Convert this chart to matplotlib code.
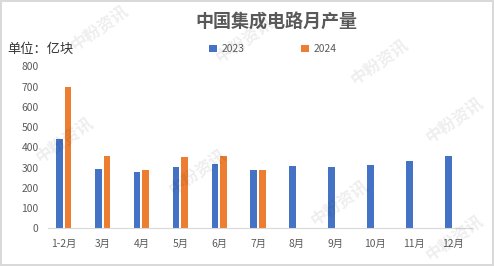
import numpy as np
import matplotlib
matplotlib.use('Agg')
import matplotlib.pyplot as plt
import matplotlib.transforms as mtransforms

plt.rcParams['font.family'] = ['Noto Sans CJK SC', 'DejaVu Sans']

# data (亿块)
months = ['1-2月', '3月', '4月', '5月', '6月', '7月', '8月', '9月', '10月', '11月', '12月']
v2023 = [441, 293, 278, 303, 318, 288, 308, 303, 313, 332, 357]
v2024 = [700, 357, 290, 352, 357, 288]

blue = '#4472C4'
orange = '#ED7D31'
grey = '#595959'

W, H = 494, 266
fig = plt.figure(figsize=(W / 100, H / 100), dpi=100)
fig.patch.set_edgecolor('#D9D9D9')
fig.patch.set_linewidth(1.5)

ax = fig.add_axes([44.2 / W, 1 - 228.3 / H, (472 - 44.2) / W, (228.3 - 66.5) / H])
ax.set_facecolor('none')
x = np.arange(len(months))
bw = 0.172
off = 0.112
ax.bar(x[:len(v2023)] - off, v2023, bw, color=blue, label='2023', zorder=2)
ax.bar(x[:len(v2024)] + off, v2024, bw, color=orange, label='2024', zorder=2)

ax.set_xlim(-0.5, len(months) - 0.5)
ax.set_ylim(0, 800)
ax.set_yticks(range(0, 801, 100))
ax.set_xticks(x)
ax.set_xticklabels(months)
shift = mtransforms.ScaledTranslation(3 / 100, 0, fig.dpi_scale_trans)
for lab in ax.get_xticklabels():
    lab.set_transform(lab.get_transform() + shift)
ax.tick_params(axis='both', length=0, labelsize=7.4, colors=grey)
ax.tick_params(axis='y', pad=4)
ax.tick_params(axis='x', pad=8)
for s in ['top', 'right', 'left']:
    ax.spines[s].set_visible(False)
ax.spines['bottom'].set_color('#D9D9D9')
ax.spines['bottom'].set_bounds(-0.4, len(months) - 0.5)

# watermarks, drawn faintly over everything
for (wx, wy) in [(100, 28), (245, 40), (380, 62), (65, 140), (198, 172),
                 (340, 203), (455, 120), (455, 238)]:
    fig.text(wx / W, 1 - wy / H, '中粉资讯', rotation=35, fontsize=12,
             fontweight='bold', color='#000000', alpha=0.07,
             ha='center', va='center', zorder=5)

fig.text(276 / W, 1 - 22 / H, '中国集成电路月产量', fontsize=13, fontweight='bold',
         color=grey, ha='center', va='center')
fig.text(7 / W, 1 - 49 / H, '单位：亿块', fontsize=9.5, color='#333333',
         ha='left', va='center')

leg = fig.legend(loc='center', bbox_to_anchor=(273 / W, 1 - 49 / H), ncol=2,
                 frameon=False, fontsize=7.4, handlelength=0.75, handleheight=0.75,
                 handletextpad=0.5, columnspacing=5.5, borderaxespad=0)
for t in leg.get_texts():
    t.set_color(grey)

fig.savefig('out.png', dpi=100)
